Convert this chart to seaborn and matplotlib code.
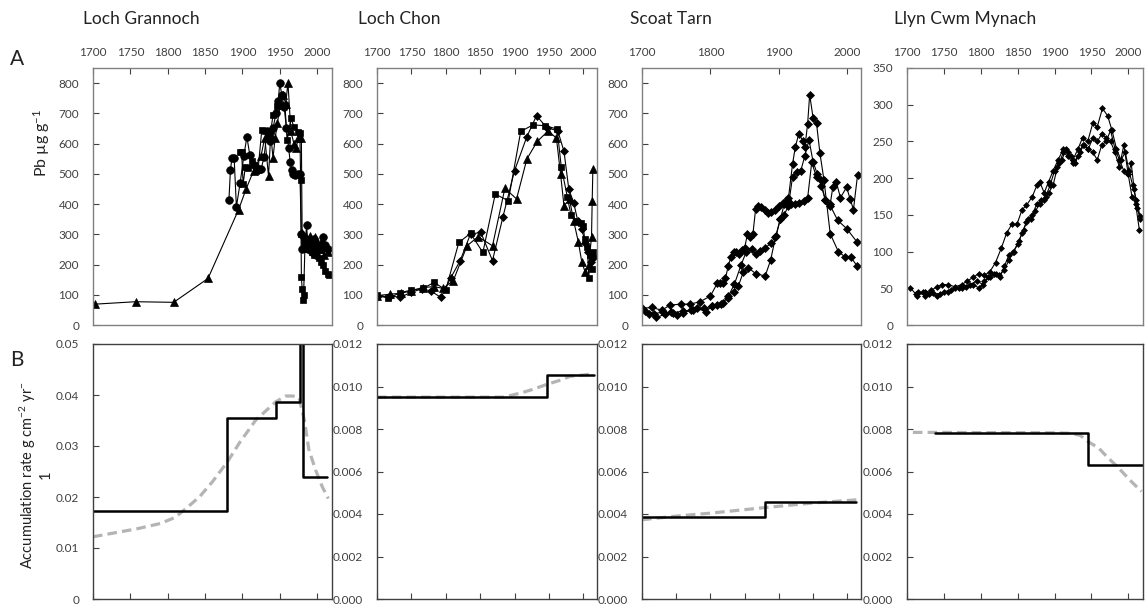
import numpy as np
import pandas as pd
import matplotlib
matplotlib.use("Agg")
import matplotlib.pyplot as plt
import seaborn as sns

sns.set_theme(style="white")
plt.rcParams["font.family"] = ["Lato", "DejaVu Sans"]
plt.rcParams["mathtext.fontset"] = "custom"
plt.rcParams["mathtext.rm"] = "Lato"
plt.rcParams["mathtext.it"] = "Lato:italic"

# ---------------- Lake names ----------------
lakes = ["Loch Grannoch", "Loch Chon", "Scoat Tarn", "Llyn Cwm Mynach"]

# ---------------- Pb concentration profiles (ug/g) ----------------
# Loch Grannoch, three cores
lg_c1_year = [1882, 1884, 1886, 1889, 1892, 1897, 1902, 1906, 1910, 1915, 1920, 1925, 1929, 1933,
              1937, 1941, 1945, 1948, 1950, 1953, 1956, 1959, 1962, 1964, 1966, 1968, 1971, 1974,
              1977, 1979, 1980, 1982, 1984, 1986, 1988, 1990, 1993, 1996, 1999, 2002, 2005, 2008,
              2011, 2014]
lg_c1_pb = [413, 512, 551, 551, 391, 470, 560, 622, 562, 530, 520, 515, 555, 640,
            610, 650, 700, 740, 799, 760, 720, 650, 584, 540, 512, 500, 496, 501,
            500, 300, 250, 290, 270, 330, 250, 270, 240, 285, 230, 260, 250, 290,
            265, 250]
lg_c2_year = [1897, 1899, 1901, 1904, 1908, 1913, 1918, 1921, 1926, 1930, 1934, 1938, 1941, 1947,
              1952, 1957, 1960, 1965, 1969, 1974, 1977, 1978, 1979, 1980, 1981, 1982, 1984, 1987,
              1990, 1993, 1996, 1999, 2002, 2005, 2008, 2011, 2014, 2016]
lg_c2_pb = [572, 572, 466, 524, 519, 544, 508, 513, 646, 640, 625, 640, 695, 723,
            723, 727, 611, 683, 656, 639, 636, 481, 160, 120, 83, 100, 280, 250,
            270, 240, 230, 260, 220, 210, 200, 180, 170, 165]
lg_c3_year = [1703, 1757, 1808, 1854, 1895, 1905, 1915, 1925, 1930, 1935, 1938, 1941, 1944, 1947,
              1951, 1955, 1958, 1961, 1965, 1969, 1972, 1975, 1979, 1980, 1982, 1985, 1988, 1991,
              1994, 1997, 2000, 2003, 2006, 2009, 2012, 2015]
lg_c3_pb = [69, 77, 75, 154, 382, 450, 510, 560, 620, 493, 630, 553, 620, 669,
            735, 760, 730, 802, 640, 600, 587, 617, 620, 304, 260, 290, 280, 295,
            260, 290, 270, 250, 280, 230, 260, 240]

# Loch Chon, three cores
lc_c1_year = [1700, 1716, 1733, 1750, 1767, 1783, 1800, 1819, 1836, 1854, 1872, 1891, 1909, 1927,
              1945, 1962, 1968, 1977, 1982, 1989, 1996, 2000, 2002, 2006, 2008, 2010, 2012, 2014]
lc_c1_pb = [100, 88, 106, 116, 121, 141, 116, 273, 303, 240, 433, 411, 640, 662,
            659, 648, 523, 422, 365, 345, 339, 328, 284, 257, 157, 230, 185, 240]
lc_c2_year = [1700, 1719, 1734, 1749, 1765, 1778, 1793, 1807, 1821, 1836, 1851, 1868, 1883, 1900,
              1918, 1932, 1947, 1963, 1972, 1979, 1986, 1992, 1998, 2003, 2007, 2011, 2015]
lc_c2_pb = [91, 97, 91, 108, 119, 113, 91, 155, 213, 301, 306, 213, 356, 510,
            623, 692, 653, 642, 574, 449, 405, 345, 317, 270, 240, 210, 225]
lc_c3_year = [1700, 1719, 1735, 1750, 1767, 1783, 1796, 1811, 1831, 1847, 1868, 1886, 1903, 1918,
              1933, 1949, 1961, 1967, 1972, 1980, 1986, 1993, 1998, 2003, 2008, 2012, 2013, 2014]
lc_c3_pb = [97, 102, 105, 113, 124, 127, 121, 147, 262, 292, 262, 452, 417, 549,
            607, 642, 618, 499, 394, 416, 345, 273, 207, 174, 200, 290, 410, 516]

# Scoat Tarn, three cores
st_c1_year = [1710, 1721, 1733, 1742, 1751, 1760, 1771, 1780, 1794, 1802, 1809, 1818, 1826, 1834,
              1841, 1848, 1855, 1866, 1880, 1888, 1895, 1902, 1908, 1914, 1920, 1924, 1929, 1935,
              1938, 1942, 1945, 1950, 1955, 1960, 1966, 1975, 1987, 1997, 2005, 2014]
st_c1_pb = [38, 25, 35, 44, 33, 41, 49, 55, 44, 63, 66, 73, 95, 110,
            130, 175, 190, 170, 162, 215, 290, 350, 400, 420, 533, 588, 632, 610,
            588, 665, 762, 685, 667, 568, 478, 302, 242, 225, 225, 196]
st_c2_year = [1705, 1718, 1730, 1745, 1760, 1775, 1790, 1803, 1815, 1825, 1835, 1845, 1852, 1860,
              1866, 1872, 1880, 1888, 1896, 1902, 1908, 1914, 1920, 1926, 1932, 1938, 1944, 1950,
              1956, 1962, 1968, 1975, 1986, 1999, 2014]
st_c2_pb = [45, 38, 42, 40, 46, 50, 55, 62, 68, 90, 135, 200, 240, 250,
            235, 245, 255, 270, 295, 350, 365, 395, 490, 505, 510, 560, 612, 540,
            500, 460, 412, 395, 346, 319, 275]
st_c3_year = [1700, 1714, 1729, 1741, 1757, 1770, 1785, 1800, 1810, 1814, 1818, 1822, 1826, 1830,
              1834, 1838, 1842, 1846, 1850, 1854, 1858, 1862, 1866, 1870, 1874, 1879, 1884, 1889,
              1894, 1900, 1906, 1912, 1918, 1924, 1930, 1936, 1942, 1948, 1955, 1961, 1968, 1975,
              1979, 1984, 1990, 1999, 2004, 2009, 2015]
st_c3_pb = [55, 58, 49, 66, 69, 69, 77, 96, 138, 138, 138, 155, 195, 225,
            243, 240, 236, 248, 255, 300, 290, 300, 383, 395, 390, 380, 372, 375,
            380, 395, 405, 412, 400, 400, 402, 410, 420, 538, 489, 478, 412, 400,
            458, 472, 421, 456, 417, 382, 497]

# Llyn Cwm Mynach, three cores
lm_c1_year = [1704, 1714, 1725, 1733, 1740, 1748, 1756, 1765, 1774, 1782, 1790, 1797, 1805, 1812,
              1820, 1828, 1835, 1842, 1849, 1856, 1862, 1870, 1876, 1880, 1886, 1892, 1898, 1905,
              1912, 1918, 1925, 1932, 1938, 1945, 1952, 1958, 1965, 1972, 1978, 1984, 1990, 1996,
              2001, 2006, 2011, 2016]
lm_c1_pb = [51, 40, 45, 47, 52, 55, 55, 52, 55, 60, 65, 70, 68, 72,
            85, 105, 125, 137, 137, 157, 163, 175, 190, 195, 180, 195, 210, 225,
            240, 235, 225, 240, 255, 250, 275, 270, 295, 285, 265, 240, 225, 235,
            210, 190, 170, 148]
lm_c2_year = [1712, 1722, 1730, 1740, 1750, 1760, 1770, 1780, 1790, 1798, 1805, 1812, 1820, 1826,
              1832, 1838, 1845, 1852, 1858, 1864, 1870, 1876, 1882, 1888, 1894, 1900, 1906, 1912,
              1918, 1925, 1932, 1938, 1945, 1952, 1958, 1964, 1970, 1976, 1982, 1988, 1994, 2000,
              2005, 2010, 2015]
lm_c2_pb = [42, 45, 42, 40, 45, 48, 50, 52, 55, 50, 60, 65, 70, 65,
            80, 95, 100, 115, 130, 145, 150, 165, 170, 175, 190, 210, 220, 235,
            230, 220, 230, 245, 240, 235, 225, 245, 250, 265, 240, 225, 210, 205,
            175, 165, 130]
lm_c3_year = [1715, 1725, 1735, 1745, 1755, 1765, 1775, 1785, 1795, 1803, 1810, 1818, 1825, 1832,
              1838, 1844, 1850, 1856, 1862, 1868, 1874, 1880, 1886, 1892, 1898, 1904, 1910, 1916,
              1922, 1928, 1934, 1940, 1946, 1952, 1958, 1964, 1970, 1976, 1982, 1988, 1994, 2000,
              2004, 2008, 2012, 2016]
lm_c3_pb = [45, 40, 43, 42, 45, 50, 50, 55, 60, 55, 65, 70, 68, 75,
            88, 100, 110, 125, 140, 145, 155, 165, 170, 180, 190, 215, 225, 240,
            230, 220, 235, 245, 240, 255, 250, 260, 255, 250, 235, 215, 245, 205,
            220, 185, 160, 145]

# ---------------- Sediment accumulation rates (g cm-2 yr-1) ----------------
# step model: segment start years (last entry closes the final segment) and rates
lg_step_year = [1700, 1880, 1945, 1977, 1981, 2013]
lg_step_rate = [0.0172, 0.0355, 0.0386, 0.0750, 0.0239]
lc_step_year = [1700, 1947, 2015]
lc_step_rate = [0.0095, 0.01056]
st_step_year = [1700, 1879, 2012]
st_step_rate = [0.00384, 0.00458]
lm_step_year = [1738, 1945, 2018]
lm_step_rate = [0.00781, 0.00632]

# smooth model
lg_smooth_year = [1700, 1730, 1760, 1790, 1810, 1825, 1843, 1860, 1880, 1896, 1918, 1945, 1958,
                  1968, 1976, 1983, 1989, 1998, 2007, 2015]
lg_smooth_rate = [0.0122, 0.0130, 0.0138, 0.0148, 0.0160, 0.0178, 0.0201, 0.0230, 0.0269, 0.0306,
                  0.0351, 0.0387, 0.0398, 0.0398, 0.0394, 0.0351, 0.0293, 0.0253, 0.0220, 0.0197]
lc_smooth_year = [1700, 1800, 1884, 1910, 1930, 1947, 1967, 1981, 2000, 2015]
lc_smooth_rate = [0.0095, 0.0095, 0.0095, 0.0097, 0.0099, 0.0101, 0.0103, 0.01048, 0.01054, 0.0106]
st_smooth_year = [1700, 1750, 1800, 1879, 1950, 2015]
st_smooth_rate = [0.00373, 0.0039, 0.00404, 0.0043, 0.00452, 0.00467]
lm_smooth_year = [1708, 1750, 1800, 1850, 1900, 1921, 1935, 1945, 1960, 1971, 1983, 1993, 2005, 2018]
lm_smooth_rate = [0.00784, 0.00784, 0.00783, 0.00783, 0.00782, 0.0078, 0.0077, 0.00742, 0.0071,
                  0.0067, 0.0063, 0.00594, 0.0055, 0.00506]

# ---------------- Figure layout ----------------
W, H = 1146, 606
fig = plt.figure(figsize=(W / 100, H / 100), dpi=100)

def axes_px(left, top, right, bottom):
    return fig.add_axes([left / W, 1 - bottom / H, (right - left) / W, (bottom - top) / H])

lefts = [93, 377, 642, 907]
rights = [332, 597, 861, 1143]
tick_col = "#404040"

def style_frame(ax, col):
    for s in ax.spines.values():
        s.set_color(col)
        s.set_linewidth(1.0)

def series(ax, x, y, marker, ms):
    sns.lineplot(x=x, y=y, ax=ax, color="black", lw=0.8, marker=marker, markersize=ms,
                 markeredgecolor="black", markerfacecolor="black", markeredgewidth=0.5,
                 estimator=None, sort=False, errorbar=None)

def steps(ax, yrs, rates):
    sns.lineplot(x=yrs, y=list(rates) + [rates[-1]], ax=ax, color="black", lw=1.8,
                 drawstyle="steps-post", estimator=None, sort=False, errorbar=None)

def smooth(ax, yrs, rates):
    sns.lineplot(x=yrs, y=rates, ax=ax, color="#b4b4b4", lw=2.3, dashes=False,
                 estimator=None, sort=False, errorbar=None).lines[-1].set_dashes((3, 1.6))

top_axes = [axes_px(l, 68, r, 325) for l, r in zip(lefts, rights)]
bot_axes = [axes_px(l, 344, r, 599) for l, r in zip(lefts, rights)]

# Panel A: Pb profiles
a0, a1, a2, a3 = top_axes
series(a0, lg_c1_year, lg_c1_pb, "o", 5.5)
series(a0, lg_c2_year, lg_c2_pb, "s", 5.0)
series(a0, lg_c3_year, lg_c3_pb, "^", 5.5)
series(a1, lc_c1_year, lc_c1_pb, "s", 5.0)
series(a1, lc_c2_year, lc_c2_pb, "D", 4.5)
series(a1, lc_c3_year, lc_c3_pb, "^", 5.5)
series(a2, st_c1_year, st_c1_pb, "D", 4.2)
series(a2, st_c2_year, st_c2_pb, "D", 4.2)
series(a2, st_c3_year, st_c3_pb, "D", 4.2)
series(a3, lm_c1_year, lm_c1_pb, "D", 3.0)
series(a3, lm_c2_year, lm_c2_pb, "D", 3.0)
series(a3, lm_c3_year, lm_c3_pb, "D", 3.0)

for i, ax in enumerate(top_axes):
    ax.set_xlim(1700, 2020)
    if i == 3:
        ax.set_ylim(0, 350)
        ax.set_yticks(np.arange(0, 351, 50))
    else:
        ax.set_ylim(0, 850)
        ax.set_yticks(np.arange(0, 801, 100))
    if i == 2:
        ax.set_xticks([1700, 1800, 1900, 2000])
    else:
        ax.set_xticks(np.arange(1700, 2001, 50))
    ax.xaxis.tick_top()
    ax.tick_params(axis="x", top=True, bottom=False, labeltop=True, labelbottom=False,
                   direction="in", length=4, width=0.8, pad=7, labelsize=8.5,
                   colors=tick_col)
    ax.tick_params(axis="y", left=True, direction="in", length=4, width=0.8, pad=10,
                   labelsize=8.5, colors=tick_col)
    ax.set_xlabel("")
    ax.set_ylabel("")
    style_frame(ax, "#808080")

# Panel B: accumulation rates
for ax, sy, sr, my, mr in zip(bot_axes,
                              [lg_step_year, lc_step_year, st_step_year, lm_step_year],
                              [lg_step_rate, lc_step_rate, st_step_rate, lm_step_rate],
                              [lg_smooth_year, lc_smooth_year, st_smooth_year, lm_smooth_year],
                              [lg_smooth_rate, lc_smooth_rate, st_smooth_rate, lm_smooth_rate]):
    smooth(ax, my, mr)
    steps(ax, sy, sr)

for i, ax in enumerate(bot_axes):
    ax.set_xlim(1700, 2020)
    ax.set_xticks(np.arange(1700, 2001, 50))
    if i == 0:
        ax.set_ylim(0, 0.05)
        yt = [0, 0.01, 0.02, 0.03, 0.04, 0.05]
        ax.set_yticks(yt)
        ax.set_yticklabels(["0", "0.01", "0.02", "0.03", "0.04", "0.05"])
    else:
        ax.set_ylim(0, 0.012)
        yt = np.arange(0, 0.0121, 0.002)
        ax.set_yticks(yt)
        ax.set_yticklabels([f"{v:.3f}" for v in yt])
    ax.tick_params(axis="x", bottom=True, labelbottom=False, direction="in", length=4,
                   width=0.8, colors=tick_col)
    ax.tick_params(axis="y", left=True, direction="in", length=4, width=0.8, pad=10,
                   labelsize=8.5, colors=tick_col)
    ax.set_xlabel("")
    ax.set_ylabel("")
    style_frame(ax, "#404040")

# Lake titles and panel letters
title_x = [83, 358, 630, 894]
for name, x in zip(lakes, title_x):
    fig.text(x / W, 1 - 19 / H, name, ha="left", va="center", fontsize=12.5, color="#222222")
fig.text(17 / W, 1 - 59 / H, "A", ha="center", va="center", fontsize=15, color="#222222")
fig.text(17 / W, 1 - 360 / H, "B", ha="center", va="center", fontsize=15, color="#222222")

fig.text(42 / W, 1 - 143 / H, r"Pb µg g$^{-1}$", rotation=90, ha="center", va="center",
         fontsize=11.5, color="#222222")
fig.text(35 / W, 1 - 475 / H, "Accumulation rate g cm$^{-2}$ yr$^{-}$\n1", rotation=90,
         ha="center", va="center", fontsize=10.5, color="#222222", linespacing=1.1,
         multialignment="center")

fig.savefig("out.png", dpi=100)
